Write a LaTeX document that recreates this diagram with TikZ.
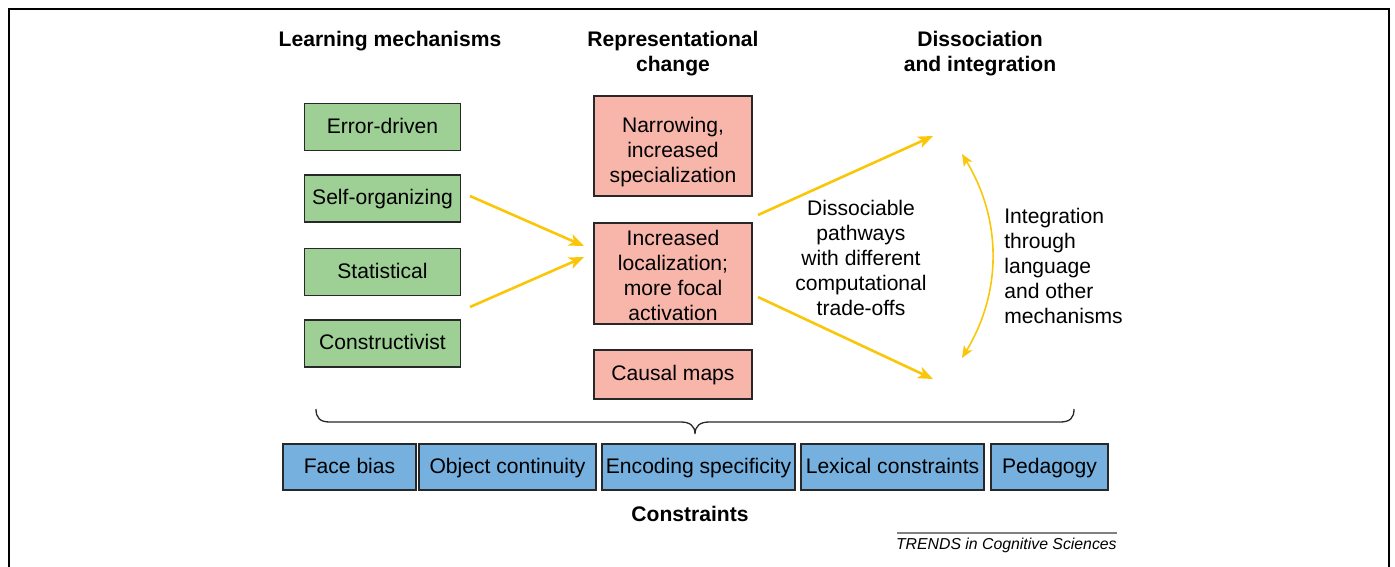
\documentclass[tikz,border=0pt]{standalone}
\usepackage{fontspec}
\setmainfont{Liberation Sans}
\usetikzlibrary{arrows.meta}
\newdimen\pxu \pxu=0.02cm
\definecolor{mechgreen}{RGB}{158,208,150}
\definecolor{changepink}{RGB}{248,181,170}
\definecolor{constrblue}{RGB}{118,176,222}
\definecolor{pathyellow}{RGB}{250,198,10}
\definecolor{boxedge}{RGB}{40,40,40}
\tikzset{
  base/.style={font=\fontsize{12}{14.2}\selectfont, inner sep=0pt, align=center},
  card/.style={base, draw=boxedge, line width=1.3\pxu},
  oneline/.style={text height=0.72em, text depth=0pt},
  mech/.style={card, oneline, fill=mechgreen, minimum width=156\pxu, minimum height=47\pxu},
  change/.style={card, fill=changepink, minimum width=158\pxu},
  constr/.style={card, oneline, fill=constrblue, minimum height=46\pxu},
  heading/.style={base, font=\fontsize{12}{14.2}\selectfont\bfseries},
  path arrow/.style={draw=pathyellow, line width=0.052cm, -{Stealth[length=0.3cm, width=0.24cm, inset=0.08cm]}},
  integ arrow/.style={draw=pathyellow, line width=0.032cm, {Stealth[length=0.24cm, width=0.2cm, inset=0.06cm]}-{Stealth[length=0.24cm, width=0.2cm, inset=0.06cm]}},
}
\begin{document}
\begin{tikzpicture}[x=0.02cm, y=-0.02cm]
\useasboundingbox (0,0) rectangle (1395,566);
\clip (0,0) rectangle (1395,566);
% outer frame
\draw[line width=2.2\pxu] (9,9) rectangle (1389,590);

% column headings
\node[heading] (hlearn) at (390,41) {Learning mechanisms};
\node[heading] (hrep) at (673,54) {Representational\\change};
\node[heading] (hdis) at (980,54) {Dissociation\\and integration};

% learning mechanisms
\node[mech] (err) at (382.5,127) {Error-driven};
\node[mech] (self) at (382.5,198.5) {Self-organizing};
\node[mech] (stat) at (382.5,272) {Statistical};
\node[mech] (cons) at (382.5,343.5) {Constructivist};

% representational change
\node[change, minimum height=100\pxu] (narrow) at (673,146) {};
\node[base] (narrowtxt) at (673,152) {Narrowing,\\increased\\specialization};
\node[change, minimum height=101\pxu] (local) at (673,273.5) {};
\node[base] (localtxt) at (673,275.5) {Increased\\localization;\\more focal\\activation};
\node[change, oneline, minimum height=49\pxu] (causal) at (673,374.5) {Causal maps};

% arrow end points
\coordinate (inA) at (470,196);
\coordinate (inB) at (470,307);
\coordinate (tipA) at (584,246);
\coordinate (tipB) at (584,257);
\coordinate (outA) at (758,215);
\coordinate (outB) at (758,297);
\coordinate (upper) at (933,136);
\coordinate (lower) at (933,379);
\coordinate (itop) at (962,154);
\coordinate (ibot) at (962,358);

\draw[path arrow] (inA) -- (tipA);
\draw[path arrow] (inB) -- (tipB);
\draw[path arrow] (outA) -- (upper);
\draw[path arrow] (outB) -- (lower);
\draw[integ arrow] (itop) .. controls (1002,220) and (1002,292) .. (ibot);

\node[base] (dissoc) at (861,258) {Dissociable\\pathways\\with different\\computational\\trade-offs};
\node[base, align=left, anchor=west] (integ) at (1004,266) {Integration\\through\\language\\and other\\mechanisms};

% brace over the constraints
\draw[line width=1.3\pxu, draw=boxedge] (316,409) .. controls (316,418) and (320,422) .. (330,422)
  -- (681,422) .. controls (690,422) and (695,426) .. (695,434)
  .. controls (695,426) and (700,422) .. (709,422)
  -- (1060,422) .. controls (1070,422) and (1074,418) .. (1074,409);

% constraints
\node[constr, minimum width=133\pxu] (face) at (349.5,467) {Face bias};
\node[constr, minimum width=177\pxu] (obj) at (507.5,467) {Object continuity};
\node[constr, minimum width=193\pxu] (enc) at (698.5,467) {Encoding specificity};
\node[constr, minimum width=183\pxu] (lex) at (892.5,467) {Lexical constraints};
\node[constr, minimum width=117\pxu] (ped) at (1049.5,467) {Pedagogy};
\node[heading] (hcons) at (690,514) {Constraints};

% journal credit
\draw[draw=gray, line width=1.3\pxu] (897,533) -- (1117,533);
\node[base, anchor=east, font=\fontsize{9}{11}\selectfont\itshape] (credit) at (1117,545) {TRENDS in Cognitive Sciences};
\end{tikzpicture}
\end{document}
